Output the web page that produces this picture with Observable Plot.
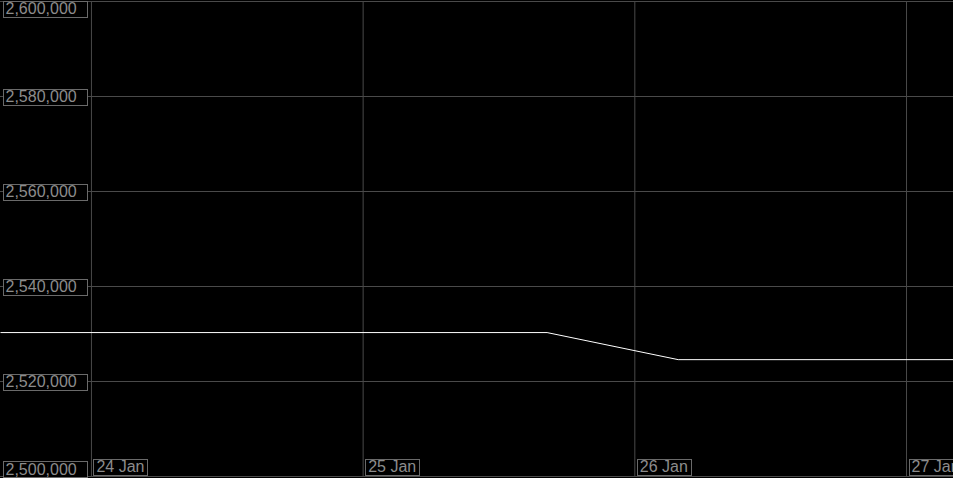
<!DOCTYPE html>
<html>
<head>
<meta charset="utf-8">
<script src="https://cdn.jsdelivr.net/npm/d3@7"></script>
<script src="https://cdn.jsdelivr.net/npm/@observablehq/plot@0.6"></script>
<style>
  html, body { margin: 0; padding: 0; background: #000; overflow: hidden; }
  #chart svg { display: block; }
</style>
</head>
<body>
<div id="chart"></div>
<script>
// ---- data ----
const lineDates = ["2024-01-23T16:00:00Z", "2024-01-25T16:15:00Z", "2024-01-26T03:50:00Z", "2024-01-27T04:10:00Z"];
const lineValues = [2530300, 2530300, 2524600, 2524600];

const yTicks = [2500000, 2520000, 2540000, 2560000, 2580000, 2600000];
const yTickLabels = ["2,500,000", "2,520,000", "2,540,000", "2,560,000", "2,580,000", "2,600,000"];

const xTicks = ["2024-01-24T00:00:00Z", "2024-01-25T00:00:00Z", "2024-01-26T00:00:00Z", "2024-01-27T00:00:00Z"];
const xTickLabels = ["24 Jan", "25 Jan", "26 Jan", "27 Jan"];

const xDomain = ["2024-01-23T15:58:00Z", "2024-01-27T04:09:00Z"];
const yDomain = [2500000, 2600000];

// ---- tables ----
const series = lineDates.map((d, i) => ({date: new Date(d), value: lineValues[i]}));
const yTable = yTicks.map((v, i) => ({value: v, label: yTickLabels[i]}));
const xTable = xTicks.map((d, i) => ({date: new Date(d), label: xTickLabels[i]}));
const x0 = new Date(xDomain[0]);

const gridColor = "#4a4a4a";
const textColor = "#8c8c8c";

const chart = Plot.plot({
  width: 953,
  height: 478,
  marginTop: 1,
  marginBottom: 2,
  marginLeft: 0,
  marginRight: 0,
  style: {background: "#000", fontFamily: "Arial, 'Liberation Sans', sans-serif"},
  x: {type: "utc", domain: xDomain.map(d => new Date(d)), axis: null},
  y: {domain: yDomain, axis: null},
  marks: [
    Plot.ruleY(yTable, {y: "value", stroke: gridColor, strokeWidth: 1}),
    Plot.ruleX(xTable, {x: "date", stroke: gridColor, strokeWidth: 1}),
    Plot.line(series, {x: "date", y: "value", stroke: "#fff", strokeWidth: 1}),
    // y labels (middle)
    Plot.text(yTable.filter((d, i) => i > 0 && i < yTable.length - 1), {
      x: () => x0, y: "value", text: "label", textAnchor: "start", dx: 5, dy: 0.5,
      fill: textColor, fontSize: 16
    }),
    // top y label
    Plot.text(yTable.slice(-1), {
      x: () => x0, y: "value", text: "label", textAnchor: "start", dx: 5, dy: 7.5,
      fill: textColor, fontSize: 16
    }),
    // bottom y label
    Plot.text(yTable.slice(0, 1), {
      x: () => x0, y: "value", text: "label", textAnchor: "start", dx: 5, dy: -7,
      fill: textColor, fontSize: 16
    }),
    // x labels
    Plot.text(xTable, {
      x: "date", y: () => yDomain[0], text: "label", textAnchor: "start", dx: 5, dy: -9.5,
      fill: textColor, fontSize: 16
    })
  ]
});

document.getElementById("chart").appendChild(chart);

// Draw boxes behind the labels
const NS = "http://www.w3.org/2000/svg";
chart.querySelectorAll("text").forEach(t => {
  const label = t.textContent;
  const isY = yTickLabels.includes(label);
  const isX = xTickLabels.includes(label);
  if (!isY && !isX) return;
  const b = t.getBBox();
  const ctm = t.getCTM();
  const offX = ctm ? ctm.e : 0;
  const offY = ctm ? ctm.f : 0;
  const cy = b.y + b.height / 2 + 0.3 + offY;
  const leftAbs = isY ? 3 : Math.round(b.x + offX - 3);
  const rightAbs = isY ? 87 : Math.round(b.x + offX + b.width + 3);
  const rect = document.createElementNS(NS, "rect");
  rect.setAttribute("x", leftAbs + 0.5 - offX);
  rect.setAttribute("y", Math.round(cy - 8) + 0.5 - offY);
  rect.setAttribute("width", rightAbs - leftAbs);
  rect.setAttribute("height", 16);
  rect.setAttribute("fill", "#000");
  rect.setAttribute("stroke", "#6a6a6a");
  rect.setAttribute("stroke-width", 1);
  const tr = t.getAttribute("transform");
  if (tr) rect.setAttribute("transform", tr);
  t.parentNode.insertBefore(rect, t);
});
</script>
</body>
</html>
